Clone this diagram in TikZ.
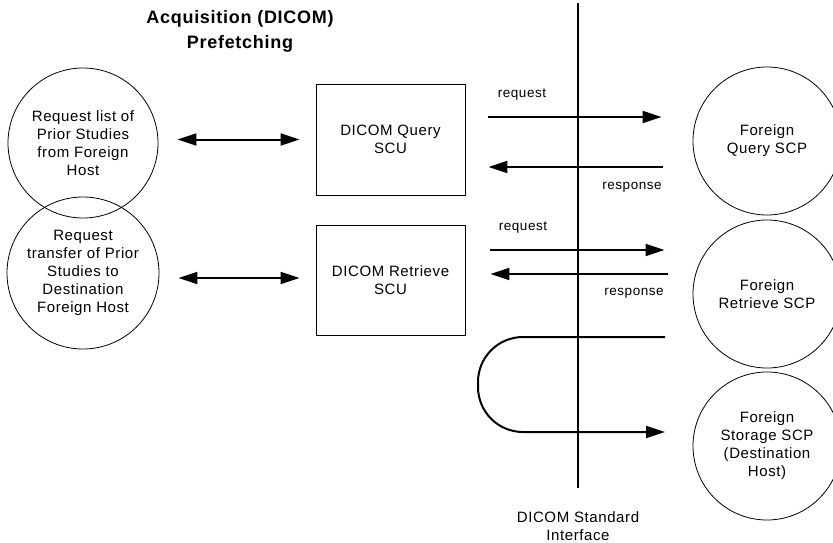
\documentclass[tikz,border=0pt]{standalone}
\usepackage{fontspec}
\setmainfont{Liberation Sans}[LetterSpace=4]
\usetikzlibrary{arrows.meta}

\begin{document}
\begin{tikzpicture}[
		x=1pt,y=-1pt,
		every node/.style={font=\fontsize{15}{18}\selectfont,align=center},
		station/.style={circle,draw,line width=0.8pt,minimum size=150pt,inner sep=0pt},
		scu/.style={rectangle,draw,line width=0.8pt,minimum width=149pt,minimum height=111pt},
		msg/.style={line width=2pt,-{Triangle[length=19pt,width=12pt]}},
		dbl/.style={line width=2pt,{Triangle[length=19pt,width=12pt]}-{Triangle[length=19pt,width=12pt]}},
		lbl/.style={font=\fontsize{13.5}{15}\selectfont}
		]
		\useasboundingbox (0,0) rectangle (833,543);
		\clip (0,0) rectangle (833,543);
		\node[font=\fontsize{18}{25}\selectfont\bfseries] (title) at (240,31) {Acquisition (DICOM)\\Prefetching};
		
		\node[station] (req1) at (83,143) {Request list of\\Prior Studies\\from Foreign\\Host};
		\node[station,minimum size=152pt] (req2) at (83,273) {Request\\transfer of Prior\\Studies to\\Destination\\Foreign Host};
		
		\node[scu] (qscu) at (390.5,139.5) {DICOM Query\\SCU};
		\node[scu,minimum height=110pt] (rscu) at (390.5,280) {DICOM Retrieve\\SCU};
		
		\node[station,minimum size=148pt] (qscp) at (767,141) {Foreign\\Query SCP};
		\node[station,minimum size=148pt] (rscp) at (767,294) {Foreign\\Retrieve SCP};
		\node[station,minimum size=148pt] (sscp) at (767,446) {Foreign\\Storage SCP\\(Destination\\Host)};
		
		\coordinate (iftop) at (578,3);
		\node (iface) at (578,526) {DICOM Standard\\Interface};
		\draw[line width=2pt,shorten >=20pt] (iftop) -- (iface.north);
		
		\draw[dbl,shorten <=19pt,shorten >=16pt] (qscu.west -| req1.east) -- (qscu.west);
		\draw[dbl,shorten <=19pt,shorten >=16pt] ([yshift=2pt]rscu.west -| req2.east) -- ([yshift=2pt]rscu.west);
		
		\draw[msg,shorten <=23pt,shorten >=31pt] ([yshift=22.5pt]qscu.east) -- ([yshift=22.5pt]qscu.east -| qscp.west);
		\draw[msg,shorten <=30pt,shorten >=23pt] ([yshift=-27.5pt]qscu.east -| qscp.west) -- ([yshift=-27.5pt]qscu.east);
		\draw[msg,shorten <=25pt,shorten >=28pt] ([yshift=30pt]rscu.east) -- ([yshift=30pt]rscu.east -| rscp.west);
		\draw[msg,shorten <=25pt,shorten >=25pt] ([yshift=6pt]rscu.east -| rscp.west) -- ([yshift=6pt]rscu.east);
		
		\node[lbl] (reqa) at (522,95) {request};
		\node[lbl] (respa) at (632,187) {response};
		\node[lbl] (reqb) at (523,228) {request};
		\node[lbl] (respb) at (634,293) {response};
		
		\coordinate (loopin) at (665,337);
		\coordinate (loopout) at (665,432);
		\draw[msg,rounded corners=45pt] (loopin) -| (478,432) -- (loopout);
\end{tikzpicture}
\end{document}
